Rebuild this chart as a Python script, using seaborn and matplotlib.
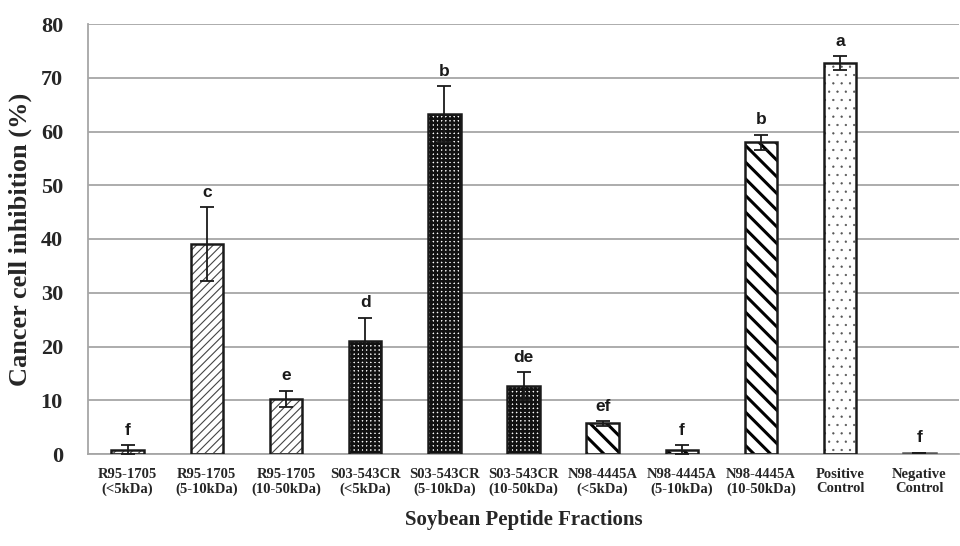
import numpy as np
import pandas as pd
import matplotlib
matplotlib.use('Agg')
import matplotlib.pyplot as plt
from matplotlib.patches import Rectangle
import seaborn as sns

# chart values
fractions = ['R95-1705\n(<5kDa)', 'R95-1705\n(5-10kDa)', 'R95-1705\n(10-50kDa)',
             'S03-543CR\n(<5kDa)', 'S03-543CR\n(5-10kDa)', 'S03-543CR\n(10-50kDa)',
             'N98-4445A\n(<5kDa)', 'N98-4445A\n(5-10kDa)', 'N98-4445A\n(10-50kDa)',
             'Positive\nControl', 'Negative\nControl']
inhibition = [0.8, 39.0, 10.3, 21.0, 63.2, 12.6, 5.7, 0.8, 58.0, 72.7, 0.2]
errors = [0.8, 6.9, 1.5, 4.3, 5.2, 2.6, 0.4, 0.8, 1.4, 1.3, 0.0]
letters = ['f', 'c', 'e', 'd', 'b', 'de', 'ef', 'f', 'b', 'a', 'f']
groups = ['R95', 'R95', 'R95', 'S03', 'S03', 'S03', 'N98', 'N98', 'N98', 'Pos', 'Neg']

# fill style per group: (face, hatch colour, hatch, hatch width)
styles = {
    'R95': ('white', '#444444', '////', 0.8),
    'S03': ('white', '#111111', '++++', 1.9),
    'N98': ('white', 'black', '\\\\', 2.2),
    'Pos': ('white', '#555555', '..', 0.4),
    'Neg': ('#555555', '#555555', '', 1.0),
}

df = pd.DataFrame({'fraction': fractions, 'inhibition': inhibition})

sns.set_style('white')
serif = ['Liberation Serif', 'DejaVu Serif']
plt.rcParams['font.family'] = serif

fig = plt.figure(figsize=(9.6, 5.46), dpi=100)
ax = fig.add_axes([88 / 960, 92 / 546, 871 / 960, 430 / 546])

sns.barplot(data=df, x='fraction', y='inhibition', color='white', width=0.41,
            errorbar=None, ax=ax, zorder=2)

for p, g in zip(ax.patches, groups):
    face, hcol, hatch, hlw = styles[g]
    p.set_facecolor(face)
    p.set_edgecolor(hcol)
    p.set_hatch(hatch)
    p.set_linewidth(0)
    if hasattr(p, 'set_hatch_linewidth'):
        p.set_hatch_linewidth(hlw)
    # dark outline on top of the hatched fill
    ec = '#555555' if g == 'Neg' else '#1a1a1a'
    ax.add_patch(Rectangle(p.get_xy(), p.get_width(), p.get_height(), fill=False,
                           ec=ec, lw=1.8, zorder=3))

centers = [p.get_x() + p.get_width() / 2 for p in ax.patches[:len(fractions)]]
ax.errorbar(centers, inhibition, yerr=errors, fmt='none', ecolor='#1a1a1a',
            elinewidth=1.3, capsize=5, capthick=1.3, zorder=4)

for x, v, e, t in zip(centers, inhibition, errors, letters):
    ax.text(x, v + e + 1.4, t, ha='center', va='bottom', fontsize=12.5,
            fontweight='bold', family=['Liberation Sans', 'DejaVu Sans'],
            color='#1a1a1a')

ax.set_ylim(0, 80)
ax.set_xlim(-0.5, len(fractions) - 0.5)
ax.set_yticks(range(0, 81, 10))
ax.yaxis.grid(True, color='#a6a6a6', lw=1.3, zorder=0)
ax.set_axisbelow(True)

for side in ['top', 'right']:
    ax.spines[side].set_visible(False)
for side in ['left', 'bottom']:
    ax.spines[side].set_color('#a6a6a6')
    ax.spines[side].set_linewidth(1.3)

ax.tick_params(axis='y', which='major', direction='out', length=6, color='#a6a6a6',
               width=1.3, labelsize=16, pad=12)
ax.tick_params(axis='x', which='major', length=0, labelsize=10.5, pad=10)
ax.set_xticks(np.arange(-0.5, len(fractions)), minor=True)
ax.tick_params(axis='x', which='minor', direction='out', length=5, color='#a6a6a6',
               width=1.3)
for lab in ax.get_xticklabels() + ax.get_yticklabels():
    lab.set_fontweight('bold')
for lab in ax.get_xticklabels():
    lab.set_linespacing(1.15)

ax.set_ylabel('Cancer cell inhibition (%)', fontsize=19, fontweight='bold', labelpad=6)
ax.set_xlabel('Soybean Peptide Fractions', fontsize=15, fontweight='bold', labelpad=10)

fig.savefig('out.png', dpi=100)
